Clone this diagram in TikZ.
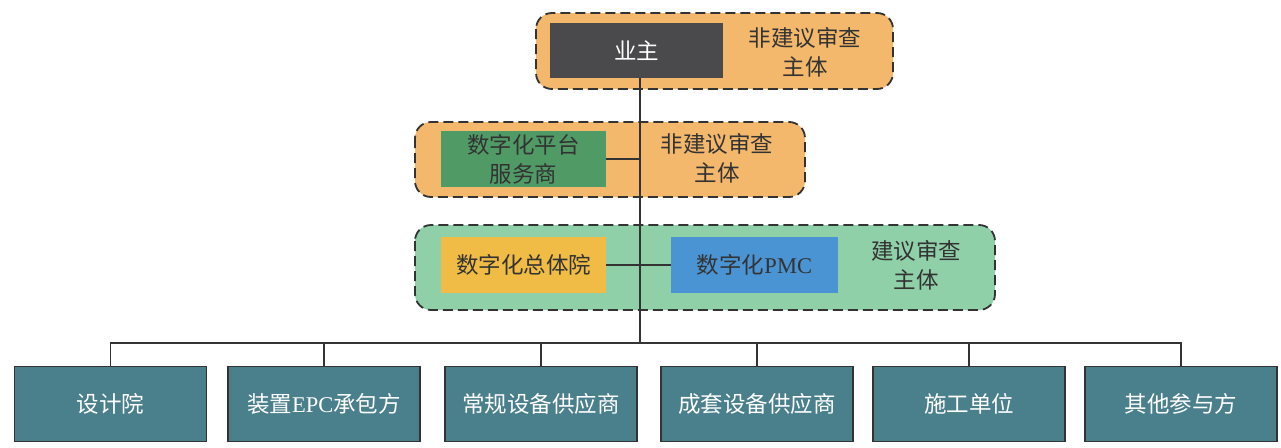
\documentclass[tikz,border=0pt]{standalone}
\usepackage{fontspec}
\setmainfont{Liberation Serif}
\newfontfamily\cjk{Noto Sans CJK SC}
\definecolor{grporange}{HTML}{F3B86B}
\definecolor{grpgreen}{HTML}{8FD0A9}
\definecolor{darkbox}{HTML}{4A4A4C}
\definecolor{greenbox}{HTML}{509A66}
\definecolor{yellowbox}{HTML}{F0BC45}
\definecolor{bluebox}{HTML}{4A94D4}
\definecolor{tealbox}{HTML}{4A7F8C}
\definecolor{linec}{HTML}{333333}
\tikzset{
  grp/.style={draw=linec, line width=1.8pt, dash pattern=on 10pt off 5pt, rounded corners=16pt},
  inbox/.style={inner sep=0pt, font=\fontsize{22.5}{29}\selectfont\cjk, align=center},
  lbl/.style={font=\fontsize{22.5}{29}\selectfont\cjk, align=center, text=linec},
  botbox/.style={draw=linec, line width=1.2pt, fill=tealbox, minimum width=192pt, minimum height=75pt, inner sep=0pt, text=white, font=\fontsize{22.5}{29}\selectfont\cjk},
  conn/.style={draw=linec, line width=1.6pt}
}
\begin{document}
\begin{tikzpicture}[x=1pt,y=-1pt]
\useasboundingbox (0,0) rectangle (1281,447);
% group backgrounds
\draw[grp, fill=grporange] (536,13) rectangle (893,89);
\draw[grp, fill=grporange] (415,122) rectangle (805,197);
\draw[grp, fill=grpgreen] (415,225) rectangle (995,310);
% inner boxes
\node[inbox, fill=darkbox, text=white, minimum width=173pt, minimum height=55pt] (yz) at (636.5,50.5) {业主};
\node[lbl] (l1) at (805,52) {非建议审查\\主体};
\node[inbox, fill=greenbox, text=linec, minimum width=165pt, minimum height=56pt] (pt) at (523.5,159) {数字化平台\\服务商};
\node[lbl] (l2) at (717,158) {非建议审查\\主体};
\node[inbox, fill=yellowbox, text=linec, minimum width=165pt, minimum height=56pt] (zt) at (523.5,265) {数字化总体院};
\node[inbox, fill=bluebox, text=linec, minimum width=167pt, minimum height=56pt] (pmc) at (754.5,265) {数字化{\fontspec{Liberation Serif}PMC}};
\node[lbl] (l3) at (916,265) {建议审查\\主体};
% bottom boxes
\node[botbox] (b1) at (110.5,404) {设计院};
\node[botbox] (b2) at (324,404) {装置{\fontspec{Liberation Serif}EPC}承包方};
\node[botbox] (b3) at (541,404) {常规设备供应商};
\node[botbox] (b4) at (757,404) {成套设备供应商};
\node[botbox] (b5) at (969,404) {施工单位};
\node[botbox] (b6) at (1181,404) {其他参与方};
% connectors
\coordinate (bus) at (640,343);
\coordinate (v2) at (640,159);
\draw[conn] (yz.south -| bus) -- (bus);
\draw[conn] (pt.east) -- (v2);
\draw[conn] (zt.east) -- (pmc.west);
\foreach \b in {b1,b2,b3,b4,b5,b6} \draw[conn] (bus) -| (\b.north);
\end{tikzpicture}
\end{document}
